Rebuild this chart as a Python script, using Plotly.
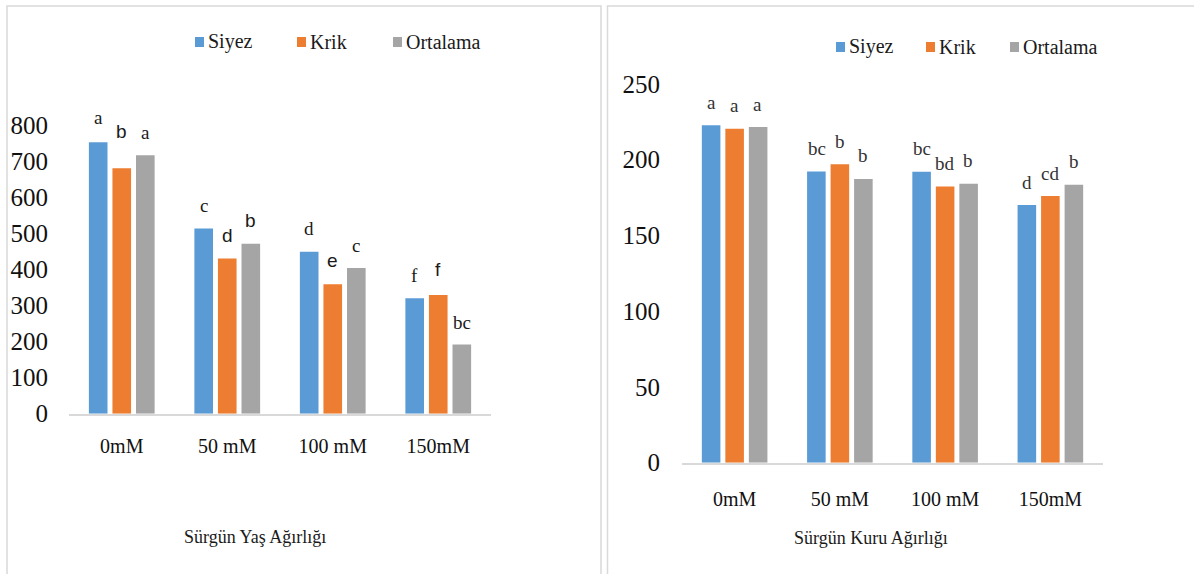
import plotly.graph_objects as go

W, H = 1194, 574

categories = ["0mM", "50 mM", "100 mM", "150mM"]
series_names = ["Siyez", "Krik", "Ortalama"]
colors = ["#5B9BD5", "#ED7D31", "#A5A5A5"]

# Sürgün Yaş Ağırlığı (left)
yas_siyez = [752, 513, 449, 320]
yas_krik = [680, 430, 359, 329]
yas_ortalama = [716, 471, 404, 192]
yas_letters_siyez = ["a", "c", "d", "f"]
yas_letters_krik = ["b", "d", "e", "f"]
yas_letters_ort = ["a", "b", "c", "bc"]

# Sürgün Kuru Ağırlığı (right)
kuru_siyez = [222.7, 192.3, 192.1, 170.1]
kuru_krik = [220.5, 197.0, 182.4, 176.0]
kuru_ortalama = [221.6, 187.3, 184.2, 183.5]
kuru_letters_siyez = ["a", "bc", "bc", "d"]
kuru_letters_krik = ["a", "b", "bd", "cd"]
kuru_letters_ort = ["a", "b", "b", "b"]

left_ticks = [0, 100, 200, 300, 400, 500, 600, 700, 800]
right_ticks = [0, 50, 100, 150, 200, 250]

SERIF = "Liberation Serif"
SANS = "Liberation Sans"


def fx(px):
    return px / W


def fy(py):
    return 1 - py / H


fig = go.Figure()

left_vals = [yas_siyez, yas_krik, yas_ortalama]
right_vals = [kuru_siyez, kuru_krik, kuru_ortalama]

for i, name in enumerate(series_names):
    fig.add_trace(go.Bar(x=categories, y=left_vals[i], name=name,
                         marker=dict(color=colors[i], line=dict(width=0)),
                         xaxis="x", yaxis="y", showlegend=False))
for i, name in enumerate(series_names):
    fig.add_trace(go.Bar(x=categories, y=right_vals[i], name=name,
                         marker=dict(color=colors[i], line=dict(width=0)),
                         xaxis="x2", yaxis="y2", showlegend=False))

annotations = []
shapes = []

# significance letters
left_letters = [yas_letters_siyez, yas_letters_krik, yas_letters_ort]
left_fonts = [[SERIF] * 4,
              [SANS, SANS, SANS, SANS],
              [SERIF, SANS, SERIF, SERIF]]
left_shift = [[25, 23, 23, 23], [37, 23, 24, 25], [23, 23, 22, 22]]
right_letters = [kuru_letters_siyez, kuru_letters_krik, kuru_letters_ort]
slot = 23.5
for i in range(3):
    for j, c in enumerate(categories):
        annotations.append(dict(x=c, y=left_vals[i][j], xref="x", yref="y",
                                text=left_letters[i][j], showarrow=False,
                                xshift=(i - 1) * slot, yshift=left_shift[i][j],
                                xanchor="center", yanchor="middle",
                                font=dict(family=left_fonts[i][j], size=19, color="#1a1a1a")))
        annotations.append(dict(x=c, y=right_vals[i][j], xref="x2", yref="y2",
                                text=right_letters[i][j], showarrow=False,
                                xshift=(i - 1) * 23.3, yshift=23,
                                xanchor="center", yanchor="middle",
                                font=dict(family=SERIF, size=19, color="#333333")))

# manual legends
legend_specs = [
    ([195, 297, 393], 42),
    ([836, 926, 1010], 47),
]
for xs, yc in legend_specs:
    for i, name in enumerate(series_names):
        x0 = xs[i]
        shapes.append(dict(type="rect", xref="paper", yref="paper",
                           x0=fx(x0), x1=fx(x0 + 9), y0=fy(yc + 5), y1=fy(yc - 5),
                           fillcolor=colors[i], line=dict(width=0)))
        annotations.append(dict(x=fx(x0 + 11), y=fy(yc), xref="paper", yref="paper",
                                text=name, showarrow=False, xanchor="left", yanchor="middle",
                                font=dict(family=SERIF, size=20, color="#1a1a1a")))

# chart titles
annotations.append(dict(x=fx(255), y=fy(537), xref="paper", yref="paper",
                        text="Sürgün Yaş Ağırlığı", showarrow=False,
                        xanchor="center", yanchor="middle",
                        font=dict(family=SERIF, size=18, color="#1a1a1a")))
annotations.append(dict(x=fx(871), y=fy(538), xref="paper", yref="paper",
                        text="Sürgün Kuru Ağırlığı", showarrow=False,
                        xanchor="center", yanchor="middle",
                        font=dict(family=SERIF, size=18, color="#1a1a1a")))

# panel borders
shapes.append(dict(type="rect", xref="paper", yref="paper",
                   x0=fx(7), x1=fx(601), y0=fy(600), y1=fy(6),
                   line=dict(color="#D9D9D9", width=1.5), fillcolor="rgba(0,0,0,0)", layer="below"))
shapes.append(dict(type="rect", xref="paper", yref="paper",
                   x0=fx(607.5), x1=fx(1230), y0=fy(600), y1=fy(6),
                   line=dict(color="#D9D9D9", width=1.5), fillcolor="rgba(0,0,0,0)", layer="below"))

xaxis_common = dict(type="category", showgrid=False, zeroline=False, showline=True,
                    linecolor="#D9D9D9", linewidth=2, ticks="", automargin=False,
                    tickfont=dict(family=SERIF, size=20, color="#111111"))
yaxis_common = dict(showgrid=False, zeroline=False, showline=False, ticks="", automargin=False,
                    tickfont=dict(family=SERIF, size=25, color="#111111"))

fig.update_layout(
    width=W, height=H, autosize=False,
    margin=dict(l=0, r=0, t=0, b=0, pad=0),
    font=dict(family=SERIF),
    paper_bgcolor="white", plot_bgcolor="rgba(0,0,0,0)",
    barmode="group", bargap=0.33, bargroupgap=0.21,
    xaxis=dict(domain=[fx(69), fx(491)], anchor="y", ticklabelstandoff=13, **xaxis_common),
    yaxis=dict(domain=[fy(413.7), fy(125)], range=[0, 800], tickvals=left_ticks,
               anchor="x", ticklabelstandoff=20, **yaxis_common),
    xaxis2=dict(domain=[fx(682), fx(1103)], anchor="y2", ticklabelstandoff=17, **xaxis_common),
    yaxis2=dict(domain=[fy(462.7), fy(84)], range=[0, 250], tickvals=right_ticks,
                anchor="x2", ticklabelstandoff=21, **yaxis_common),
    annotations=annotations,
    shapes=shapes,
    showlegend=False,
)

fig.write_html("out.html", config={"displayModeBar": False},
               post_script="document.body.style.margin='0';document.body.style.overflow='hidden';")
